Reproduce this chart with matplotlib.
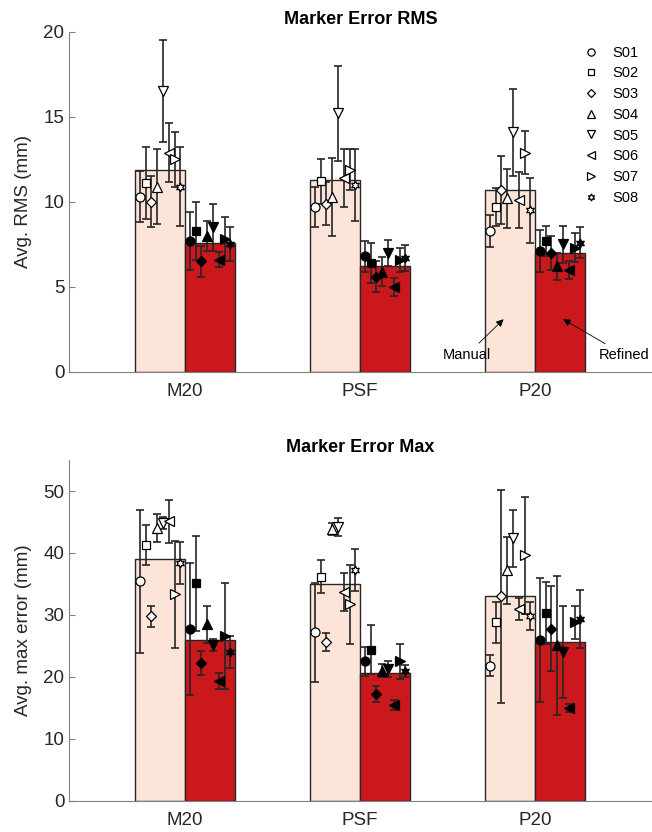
import matplotlib.pyplot as plt
import numpy as np
from matplotlib.lines import Line2D

plt.rcParams['font.family'] = ['Liberation Sans', 'DejaVu Sans']

groups = ["M20", "PSF", "P20"]
subjects = ["S01", "S02", "S03", "S04", "S05", "S06", "S07", "S08"]
markers = ['o', 's', 'D', '^', 'v', '<', '>', (6, 1, 0)]
msizes = [6.5, 5.5, 5.0, 7, 7, 7, 7, 6.5]

# RMS (mm): bar heights, per-subject means and errors, one row per group
rms_bar_manual = [11.9, 11.3, 10.7]
rms_bar_refined = [7.6, 6.2, 7.0]
rms_manual = [[10.3, 11.1, 10.0, 10.9, 16.5, 12.9, 12.5, 10.9],
              [9.7, 11.2, 9.9, 10.3, 15.2, 11.4, 11.9, 11.0],
              [8.3, 9.7, 10.7, 10.2, 14.1, 10.1, 12.9, 9.5]]
rms_manual_err = [[1.5, 2.1, 1.5, 2.2, 3.0, 1.75, 1.6, 2.3],
                  [1.15, 1.3, 1.25, 2.3, 2.8, 1.7, 1.2, 2.1],
                  [0.95, 1.1, 2.0, 1.75, 2.55, 1.65, 1.25, 1.9]]
rms_refined = [[7.7, 8.3, 6.5, 8.0, 8.5, 6.6, 7.8, 7.5],
               [6.8, 6.4, 5.6, 5.9, 7.0, 5.0, 6.6, 6.7],
               [7.1, 7.7, 7.0, 6.2, 7.5, 6.0, 7.3, 7.6]]
rms_refined_err = [[1.7, 1.7, 0.9, 0.9, 1.4, 0.45, 1.3, 1.0],
                   [0.9, 1.2, 0.9, 0.85, 0.75, 0.55, 0.7, 0.75],
                   [1.25, 0.9, 1.0, 0.8, 1.1, 0.55, 0.85, 0.9]]

# Max error (mm)
max_bar_manual = [39.0, 35.0, 33.0]
max_bar_refined = [26.0, 20.7, 25.7]
max_manual = [[35.4, 41.3, 29.8, 44.0, 44.8, 45.1, 33.3, 38.4],
              [27.2, 36.2, 25.6, 43.9, 44.2, 33.7, 31.7, 37.2],
              [21.8, 28.8, 33.0, 37.2, 42.4, 31.0, 39.6, 29.8]]
max_manual_err = [[11.5, 3.3, 1.7, 2.3, 1.0, 3.5, 8.7, 3.4],
                  [8.0, 2.6, 1.5, 1.0, 1.5, 3.0, 6.4, 3.4],
                  [1.7, 3.3, 17.2, 5.4, 4.6, 1.8, 9.4, 2.3]]
max_refined = [[27.7, 35.1, 22.2, 28.5, 25.1, 19.3, 26.6, 24.0],
               [22.5, 24.4, 17.2, 21.0, 21.3, 15.5, 22.5, 20.9],
               [26.0, 30.3, 27.8, 25.1, 24.0, 15.0, 28.8, 29.3]]
max_refined_err = [[10.7, 7.7, 1.9, 3.0, 1.0, 1.3, 8.5, 2.6],
                   [2.4, 4.0, 1.3, 1.0, 1.3, 0.8, 2.8, 1.0],
                   [10.0, 5.0, 6.8, 11.2, 7.4, 0.6, 2.7, 4.7]]

c_manual = '#fde4d9'
c_refined = '#cb181d'
bw = 0.286
step = 0.033


def draw_panel(ax, bar_m, bar_r, vals_m, err_m, vals_r, err_r):
    x = np.arange(1, len(groups) + 1)
    ax.bar(x - bw / 2, bar_m, width=bw, color=c_manual, edgecolor='#262626', linewidth=1.0, zorder=1)
    ax.bar(x + bw / 2, bar_r, width=bw, color=c_refined, edgecolor='#262626', linewidth=1.0, zorder=1)
    for g in range(len(groups)):
        for i in range(len(subjects)):
            off = (i - 3.5) * step
            for xc, v, e, face in [(x[g] - bw / 2 + off, vals_m[g][i], err_m[g][i], 'white'),
                                   (x[g] + bw / 2 + off, vals_r[g][i], err_r[g][i], 'black')]:
                ax.errorbar(xc, v, yerr=e, fmt='none', ecolor='#262626', elinewidth=1.2,
                            capsize=3.2, capthick=1.2, zorder=2)
                ax.plot(xc, v, linestyle='', marker=markers[i], ms=msizes[i],
                        markerfacecolor=face, markeredgecolor='black', markeredgewidth=0.9, zorder=3)
    ax.set_xticks(x)
    ax.set_xticklabels(groups)
    ax.set_xlim(0.337, 3.668)
    for s in ['top', 'right']:
        ax.spines[s].set_visible(False)
    for s in ['left', 'bottom']:
        ax.spines[s].set_color('#808080')
        ax.spines[s].set_linewidth(0.8)
    ax.tick_params(axis='both', direction='in', length=4, color='#808080',
                   labelsize=13.5, labelcolor='#262626')
    ax.tick_params(axis='x', length=0, pad=8)


fig = plt.figure(figsize=(6.52, 8.32), dpi=100)
ax1 = fig.add_axes([0.106, 0.553, 0.894, 0.4087])
ax2 = fig.add_axes([0.106, 0.0376, 0.894, 0.4094])

draw_panel(ax1, rms_bar_manual, rms_bar_refined, rms_manual, rms_manual_err, rms_refined, rms_refined_err)
ax1.set_ylim(0, 20)
ax1.set_yticks([0, 5, 10, 15, 20])
ax1.set_ylabel("Avg. RMS (mm)", fontsize=13.5, color='#262626', labelpad=8)
ax1.set_title("Marker Error RMS", fontsize=13, fontweight='bold', pad=6)

handles = [Line2D([], [], linestyle='', marker=markers[i], ms=msizes[i] * 0.8, markerfacecolor='white',
                  markeredgecolor='black', markeredgewidth=0.9) for i in range(len(subjects))]
ax1.legend(handles, subjects, loc='upper right', frameon=False, fontsize=10.5,
           labelspacing=0.46, handlelength=1.0, handletextpad=1.0, bbox_to_anchor=(1.0, 0.998))

ax1.annotate("Manual", xy=(2.82, 3.1), xytext=(2.61, 1.0), ha='center', va='center', fontsize=10.5,
             arrowprops=dict(arrowstyle='-|>', color='black', lw=0.6, mutation_scale=11, shrinkA=2, shrinkB=0))
ax1.annotate("Refined", xy=(3.16, 3.1), xytext=(3.51, 1.0), ha='center', va='center', fontsize=10.5,
             arrowprops=dict(arrowstyle='-|>', color='black', lw=0.6, mutation_scale=11, shrinkA=2, shrinkB=0))

draw_panel(ax2, max_bar_manual, max_bar_refined, max_manual, max_manual_err, max_refined, max_refined_err)
ax2.set_ylim(0, 55)
ax2.set_yticks([0, 10, 20, 30, 40, 50])
ax2.set_ylabel("Avg. max error (mm)", fontsize=13.5, color='#262626', labelpad=8)
ax2.set_title("Marker Error Max", fontsize=13, fontweight='bold', pad=6)

fig.savefig("out.png", dpi=100)
